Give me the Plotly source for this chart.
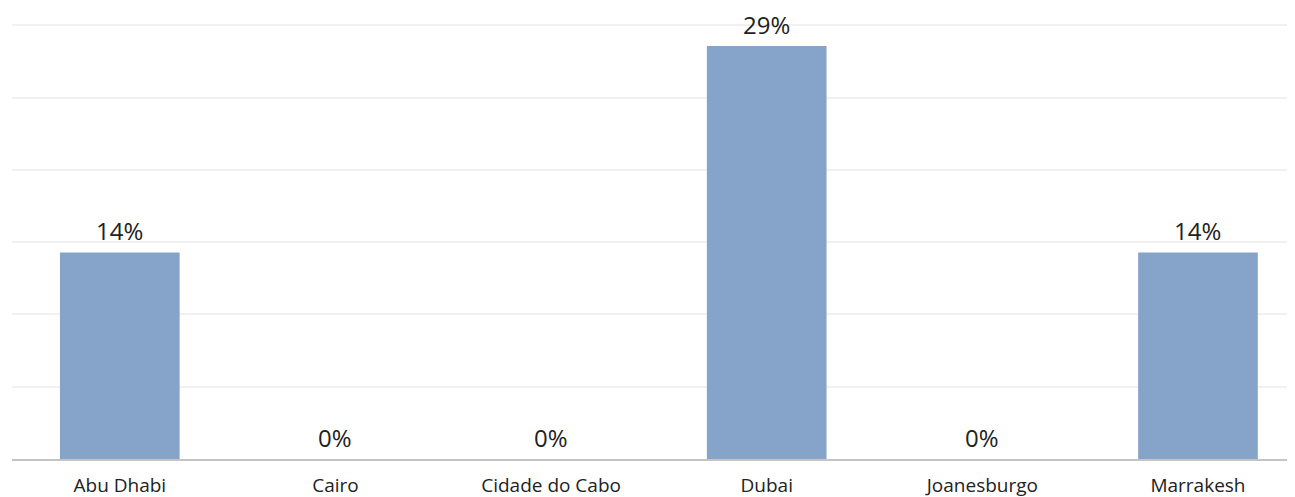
import plotly.graph_objects as go

categories = ["Abu Dhabi", "Cairo", "Cidade do Cabo", "Dubai", "Joanesburgo", "Marrakesh"]
values = [14.29, 0, 0, 28.57, 0, 14.29]
labels = [f"{round(v):.0f}%" for v in values]

FONT = "Open Sans, Liberation Sans, sans-serif"

fig = go.Figure(go.Bar(
    x=categories, y=values,
    marker=dict(color="#86a4ca", line=dict(width=0)),
    width=0.555,
    hoverinfo="x+y",
))

for c, v, t in zip(categories, values, labels):
    fig.add_annotation(x=c, y=v, text=t, showarrow=False, yanchor="bottom", yshift=3,
                       font=dict(size=24, color="#222222", family=FONT))

fig.update_layout(
    width=1287, height=489,
    margin=dict(l=4, r=0, t=3, b=38),
    plot_bgcolor="white", paper_bgcolor="white",
    showlegend=False,
    xaxis=dict(range=[-0.5, 5.45], showgrid=False, showline=True, linecolor="#c4c4c4", linewidth=1.5,
               tickfont=dict(size=19, color="#222222", family=FONT),
               ticks="", ticklabelstandoff=8, automargin=False),
    yaxis=dict(range=[0, 31], dtick=5, showticklabels=False, showgrid=True, gridcolor="#f1f1f1",
               gridwidth=2, zeroline=False),
)

fig.write_html("out.html")
